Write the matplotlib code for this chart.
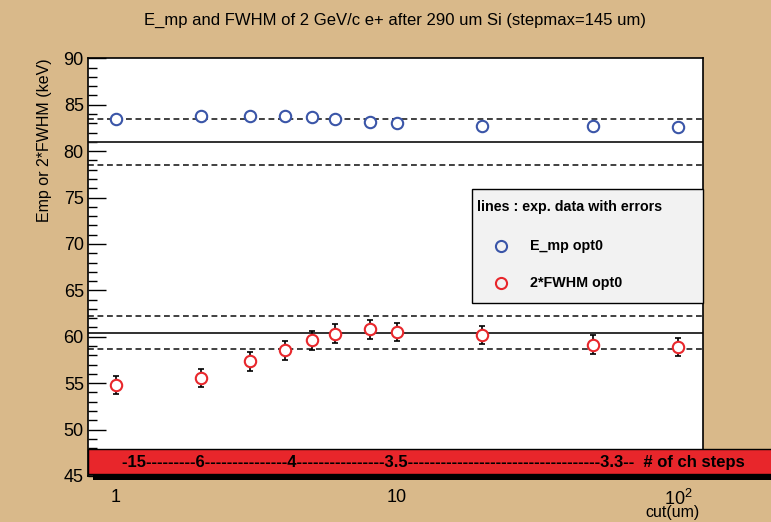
import matplotlib
matplotlib.use('Agg')
import matplotlib.pyplot as plt
from matplotlib.patches import Rectangle
from matplotlib.lines import Line2D
from matplotlib.ticker import MultipleLocator, NullLocator

plt.rcParams['font.family'] = ['Liberation Sans', 'DejaVu Sans']
plt.rcParams['mathtext.fontset'] = 'custom'
plt.rcParams['mathtext.rm'] = 'Liberation Sans'
plt.rcParams['mathtext.it'] = 'Liberation Sans:italic'
plt.rcParams['mathtext.bf'] = 'Liberation Sans:bold'

# ---------------- data ----------------
cut = [1, 2, 3, 4, 5, 6, 8, 10, 20, 50, 100]
emp = [83.5, 83.75, 83.75, 83.75, 83.7, 83.5, 83.15, 83.0, 82.75, 82.75, 82.65]
fwhm2 = [54.8, 55.55, 57.35, 58.55, 59.6, 60.35, 60.8, 60.5, 60.2, 59.15, 58.9]
fwhm2_err = [1.0, 1.0, 1.0, 1.0, 1.0, 1.0, 1.0, 1.0, 1.0, 1.0, 1.0]
emp_exp, emp_exp_err = 81.0, 2.45
fwhm_exp, fwhm_exp_err = 60.45, 1.8
xtick_vals = [1, 10, 100]
xtick_labels = ['1', '10', '$10^{2}$']
title = 'E_mp and FWHM of 2 GeV/c e+ after 290 um Si (stepmax=145 um)'
ylabel = 'Emp or 2*FWHM (keV)'
xlabel = 'cut(um)'
band_text = '-15---------6---------------4----------------3.5-----------------------------------3.3--  # of ch steps'
legend_header = 'lines : exp. data with errors'
series_names = ['E_mp opt0', '2*FWHM opt0']

# ---------------- style ----------------
tan = '#d9b98a'
blue = '#3a55a8'
red = '#e8262b'
W, H = 771, 522


def fx(px):
    return px / W


def fy(py):
    return 1 - py / H


fig = plt.figure(figsize=(W / 100, H / 100), dpi=100, facecolor=tan)
ax = fig.add_axes([fx(88), fy(476), fx(703) - fx(88), fy(58.3) - fy(476)])
ax.set_facecolor('white')
ax.set_xscale('log')
ax.set_xlim(0.795, 122.7)
ax.set_ylim(45, 90)

dash = (0, (3.5, 2.2))
for c, e in [(emp_exp, emp_exp_err), (fwhm_exp, fwhm_exp_err)]:
    ax.axhline(c, color='#202020', lw=1.3, zorder=2)
    ax.axhline(c + e, color='#202020', lw=1.2, ls=dash, zorder=2)
    ax.axhline(c - e, color='#202020', lw=1.2, ls=dash, zorder=2)

ax.errorbar(cut, fwhm2, yerr=fwhm2_err, fmt='none', ecolor='black',
            elinewidth=1.2, capsize=2.5, capthick=1.2, zorder=3)
ax.plot(cut, fwhm2, 'o', ls='none', mfc='white', mec=red, ms=8.2, mew=1.5, zorder=4)
ax.plot(cut, emp, 'o', ls='none', mfc='white', mec=blue, ms=8.2, mew=1.5, zorder=4)

ax.yaxis.set_major_locator(MultipleLocator(5))
ax.yaxis.set_minor_locator(MultipleLocator(1))
ax.tick_params(axis='y', which='major', direction='in', length=13, width=1,
               right=False, labelsize=13, pad=3)
ax.tick_params(axis='y', which='minor', direction='in', length=6.5, width=1, right=False)
ax.set_xticks(xtick_vals)
ax.set_xticklabels(xtick_labels)
ax.xaxis.set_minor_locator(NullLocator())
ax.tick_params(axis='x', length=0, labelsize=13, pad=9)
for s in ax.spines.values():
    s.set_linewidth(1.2)

# red band with shadow
fig.add_artist(Rectangle((fx(93), fy(480)), 1, fy(474) - fy(480),
                         transform=fig.transFigure, fc='black', ec='none', zorder=5))
fig.add_artist(Rectangle((fx(88), fy(474)), 1, fy(449) - fy(474),
                         transform=fig.transFigure, fc=red, ec='black', lw=1, zorder=6))
fig.text(fx(122), fy(462), band_text, fontweight='bold', fontsize=12,
         ha='left', va='center', zorder=7)

# legend box
fig.add_artist(Rectangle((fx(472), fy(303)), fx(703) - fx(472), fy(189) - fy(303),
                         transform=fig.transFigure, fc='#f2f2f2', ec='black', lw=1, zorder=6))
fig.text(fx(477), fy(207), legend_header, fontweight='bold', fontsize=10.3,
         ha='left', va='center', zorder=7)
for yy, col, name in [(246, blue, series_names[0]), (283, red, series_names[1])]:
    fig.add_artist(Line2D([fx(501)], [fy(yy)], transform=fig.transFigure, marker='o',
                          ls='none', mfc='none', mec=col, ms=8, mew=1.5, zorder=7))
    fig.text(fx(530), fy(yy), name, fontweight='bold', fontsize=10.3,
             ha='left', va='center', zorder=7)

fig.text(fx(395), fy(20), title, ha='center', va='center', fontsize=12)
fig.text(fx(45), fy(58), ylabel, rotation=90, ha='center', va='top', fontsize=11.5)
fig.text(fx(700), fy(513), xlabel, ha='right', va='center', fontsize=11.5)

fig.savefig('out.png', dpi=100, facecolor=tan)
